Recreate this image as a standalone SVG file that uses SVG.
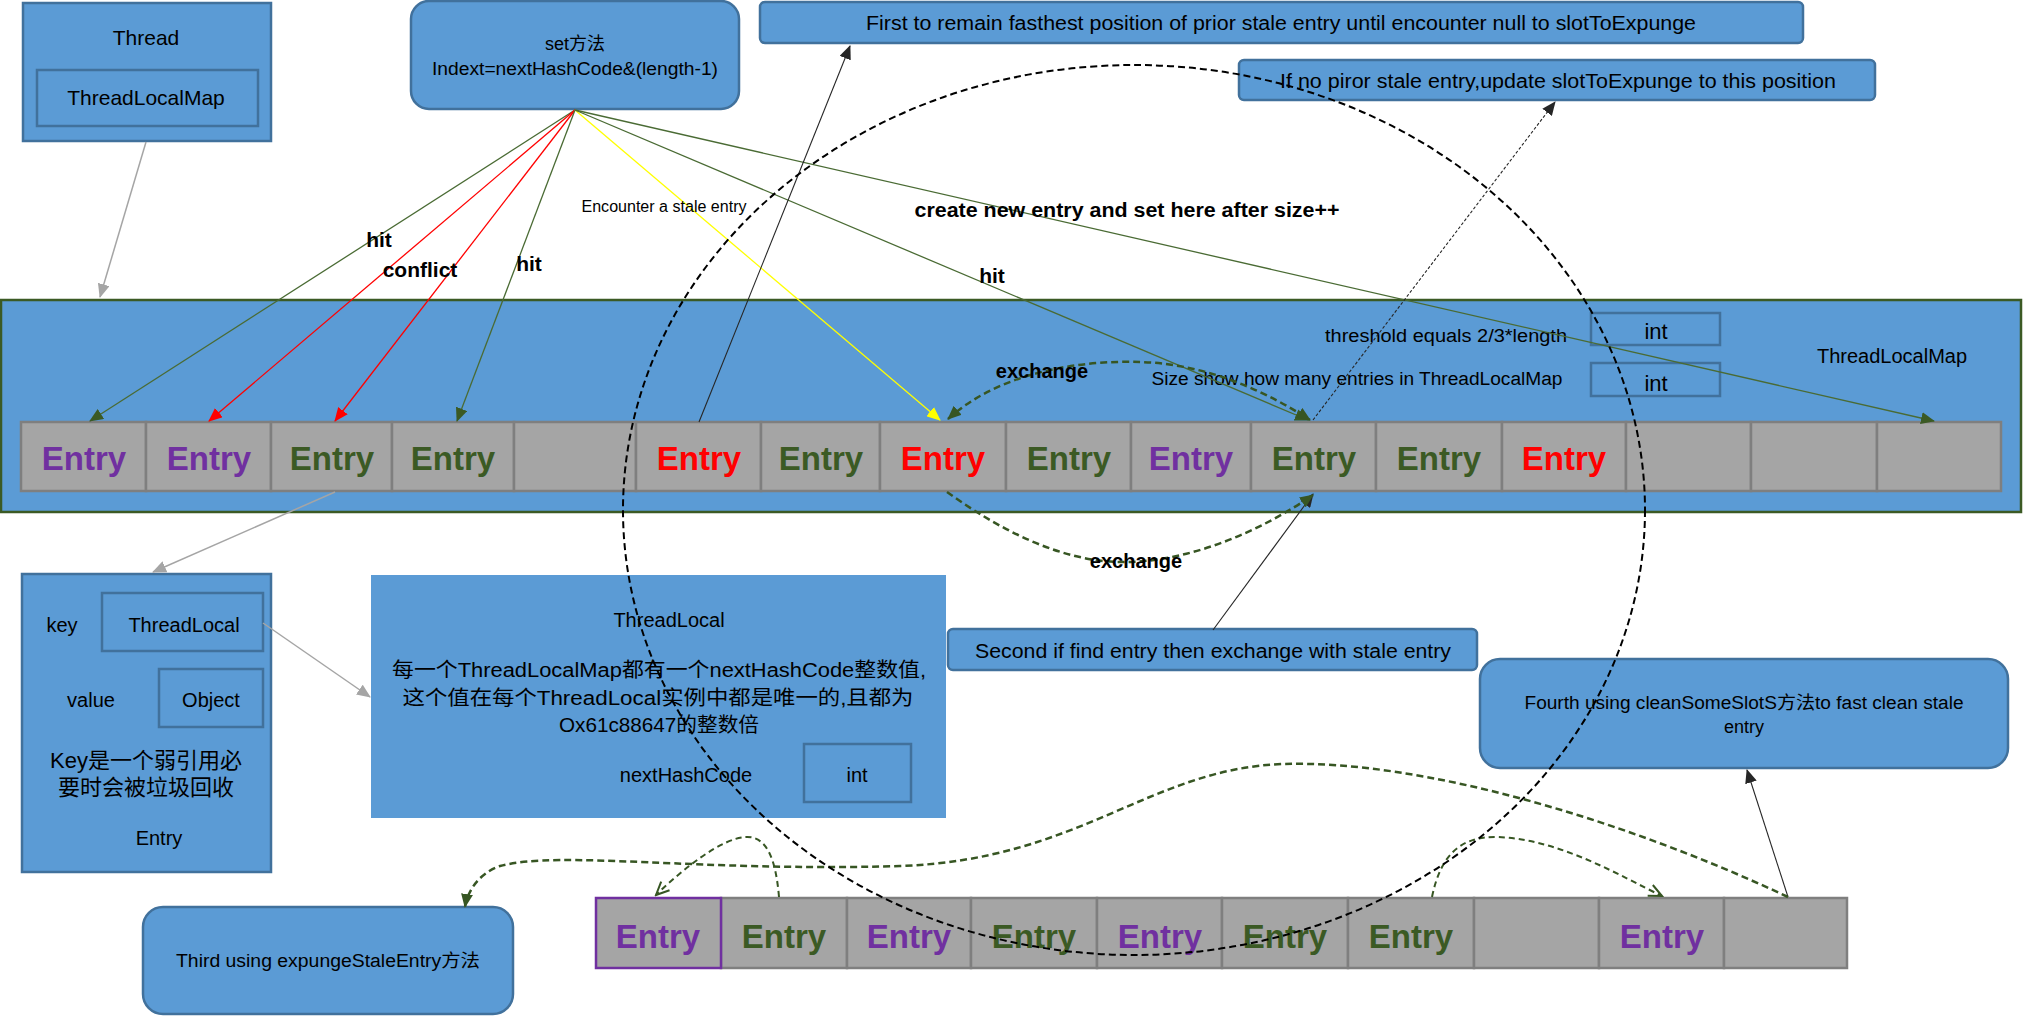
<svg xmlns="http://www.w3.org/2000/svg" width="2024" height="1016" viewBox="0 0 2024 1016">
<style>
text{font-family:"Liberation Sans","Noto Sans CJK SC",sans-serif;fill:#000}
.box{fill:#5B9BD5;stroke:#41719C;stroke-width:2.5}
.flat{fill:#5B9BD5;stroke:none}
.inner{fill:none;stroke:#41719C;stroke-width:2.5}
.map{fill:#5B9BD5;stroke:#3B5A24;stroke-width:2.5}
.cell{fill:#A5A5A5;stroke:#7F7F7F;stroke-width:2.5}
.e{font-size:33px;font-weight:bold;text-anchor:middle}
.p{fill:#7030A0}.g{fill:#3B5A24}.r{fill:#FF0000}
.t{font-size:20px;text-anchor:middle}
.s{font-size:18px;text-anchor:middle}
.b{font-weight:bold}
.lg{stroke:#4A6B34;stroke-width:1.3;fill:none}
.lr{stroke:#FF0000;stroke-width:1.3;fill:none}
.ly{stroke:#FFFF00;stroke-width:1.3;fill:none}
.lgr{stroke:#A5A5A5;stroke-width:1.5;fill:none}
.lk{stroke:#262626;stroke-width:1.1;fill:none}
.dg{stroke:#375623;stroke-width:2.5;fill:none;stroke-dasharray:7 4}
.dgt{stroke:#375623;stroke-width:2;fill:none;stroke-dasharray:6 4}
</style>
<defs>
<marker id="ag" markerUnits="userSpaceOnUse" markerWidth="14" markerHeight="12" refX="13" refY="6" orient="auto"><path d="M0,0 L14,6 L0,12 z" fill="#3B5A24"/></marker>
<marker id="ar" markerUnits="userSpaceOnUse" markerWidth="14" markerHeight="12" refX="13" refY="6" orient="auto"><path d="M0,0 L14,6 L0,12 z" fill="#FF0000"/></marker>
<marker id="ay" markerUnits="userSpaceOnUse" markerWidth="14" markerHeight="12" refX="13" refY="6" orient="auto"><path d="M0,0 L14,6 L0,12 z" fill="#FFFF00"/></marker>
<marker id="agr" markerUnits="userSpaceOnUse" markerWidth="14" markerHeight="12" refX="13" refY="6" orient="auto"><path d="M0,0 L14,6 L0,12 z" fill="#A5A5A5"/></marker>
<marker id="ak" markerUnits="userSpaceOnUse" markerWidth="14" markerHeight="12" refX="13" refY="6" orient="auto"><path d="M0,0 L14,6 L0,12 z" fill="#262626"/></marker>
<marker id="ad" markerUnits="userSpaceOnUse" markerWidth="14" markerHeight="12" refX="13" refY="6" orient="auto-start-reverse"><path d="M0,0 L14,6 L0,12 z" fill="#375623"/></marker>
<marker id="ao" markerUnits="userSpaceOnUse" markerWidth="16" markerHeight="14" refX="14" refY="7" orient="auto"><path d="M1,1 L14,7 L1,13" fill="none" stroke="#375623" stroke-width="2"/></marker>
</defs>

<g id="thread">
<rect class="box" x="23" y="3" width="248" height="138"/>
<text class="t" x="146" y="45" style="font-size:21px">Thread</text>
<rect class="inner" x="37" y="70" width="221" height="56"/>
<text class="t" x="146" y="105" style="font-size:21px">ThreadLocalMap</text>
</g>

<g id="set-method">
<rect class="box" x="411" y="1" width="328" height="108" rx="18"/>
<text class="s" x="575" y="50">set方法</text>
<text class="s" x="575" y="75" textLength="286" lengthAdjust="spacingAndGlyphs">Indext=nextHashCode&amp;(length-1)</text>
</g>

<g id="first-note">
<rect class="box" x="760" y="2" width="1043" height="41" rx="5"/>
<text class="t" x="1281" y="30" textLength="830" lengthAdjust="spacingAndGlyphs">First to remain fasthest position of prior stale entry until encounter null to slotToExpunge</text>
</g>

<g id="ifno-note">
<rect class="box" x="1239" y="60" width="636" height="40" rx="5"/>
<text class="t" x="1558" y="88" textLength="556" lengthAdjust="spacingAndGlyphs">If no piror stale entry,update slotToExpunge to this position</text>
</g>

<g id="threadlocalmap">
<rect class="map" x="1" y="300" width="2020" height="212"/>
<text class="s" x="1446" y="342" textLength="242" lengthAdjust="spacingAndGlyphs">threshold equals 2/3*length</text>
<rect class="inner" x="1591" y="313" width="129" height="32"/>
<text class="t" x="1656" y="339" style="font-size:22px">int</text>
<text class="s" x="1357" y="385" textLength="411" lengthAdjust="spacingAndGlyphs">Size show how many entries in ThreadLocalMap</text>
<rect class="inner" x="1591" y="363" width="129" height="33"/>
<text class="t" x="1656" y="391" style="font-size:22px">int</text>
<text class="t" x="1892" y="363">ThreadLocalMap</text>
</g>

<g id="entries-top">
<rect class="cell" x="21" y="422" width="125" height="69"/>
<rect class="cell" x="146" y="422" width="125" height="69"/>
<rect class="cell" x="271" y="422" width="121" height="69"/>
<rect class="cell" x="392" y="422" width="122" height="69"/>
<rect class="cell" x="514" y="422" width="122" height="69"/>
<rect class="cell" x="636" y="422" width="125" height="69"/>
<rect class="cell" x="761" y="422" width="119" height="69"/>
<rect class="cell" x="880" y="422" width="126" height="69"/>
<rect class="cell" x="1006" y="422" width="125" height="69"/>
<rect class="cell" x="1131" y="422" width="120" height="69"/>
<rect class="cell" x="1251" y="422" width="125" height="69"/>
<rect class="cell" x="1376" y="422" width="126" height="69"/>
<rect class="cell" x="1502" y="422" width="124" height="69"/>
<rect class="cell" x="1626" y="422" width="125" height="69"/>
<rect class="cell" x="1751" y="422" width="126" height="69"/>
<rect class="cell" x="1877" y="422" width="124" height="69"/>
<text class="e p" x="84" y="470">Entry</text>
<text class="e p" x="209" y="470">Entry</text>
<text class="e g" x="332" y="470">Entry</text>
<text class="e g" x="453" y="470">Entry</text>
<text class="e r" x="699" y="470">Entry</text>
<text class="e g" x="821" y="470">Entry</text>
<text class="e r" x="943" y="470">Entry</text>
<text class="e g" x="1069" y="470">Entry</text>
<text class="e p" x="1191" y="470">Entry</text>
<text class="e g" x="1314" y="470">Entry</text>
<text class="e g" x="1439" y="470">Entry</text>
<text class="e r" x="1564" y="470">Entry</text>
</g>

<g id="entry-detail">
<rect class="box" x="22" y="574" width="249" height="298"/>
<text class="t" x="62" y="632">key</text>
<rect class="inner" x="102" y="593" width="161" height="58"/>
<text class="t" x="184" y="632">ThreadLocal</text>
<text class="t" x="91" y="707">value</text>
<rect class="inner" x="159" y="669" width="104" height="58"/>
<text class="t" x="211" y="707">Object</text>
<text class="t" x="146" y="768" style="font-size:22px">Key是一个弱引用必</text>
<text class="t" x="146" y="795" style="font-size:22px">要时会被垃圾回收</text>
<text class="t" x="159" y="845">Entry</text>
</g>

<g id="threadlocal">
<rect class="flat" x="371" y="575" width="575" height="243"/>
<text class="t" x="669" y="627">ThreadLocal</text>
<text class="t" x="659" y="677" textLength="534" lengthAdjust="spacingAndGlyphs">每一个ThreadLocalMap都有一个nextHashCode整数值,</text>
<text class="t" x="658" y="705" textLength="511" lengthAdjust="spacingAndGlyphs">这个值在每个ThreadLocal实例中都是唯一的,且都为</text>
<text class="t" x="659" y="732" textLength="200" lengthAdjust="spacingAndGlyphs">Ox61c88647的整数倍</text>
<text class="t" x="686" y="782">nextHashCode</text>
<rect class="inner" x="804" y="744" width="107" height="58"/>
<text class="t" x="857" y="782">int</text>
</g>

<g id="second-note">
<rect class="box" x="948" y="629" width="529" height="41" rx="5"/>
<text class="t" x="1213" y="658" textLength="476" lengthAdjust="spacingAndGlyphs">Second if find entry then exchange with stale entry</text>
</g>

<g id="fourth-note">
<rect class="box" x="1480" y="659" width="528" height="109" rx="20"/>
<text class="s" x="1744" y="709" textLength="439" lengthAdjust="spacingAndGlyphs">Fourth using cleanSomeSlotS方法to fast clean stale</text>
<text class="s" x="1744" y="733">entry</text>
</g>

<g id="third-note">
<rect class="box" x="143" y="907" width="370" height="107" rx="20"/>
<text class="s" x="328" y="967" textLength="304" lengthAdjust="spacingAndGlyphs">Third using expungeStaleEntry方法</text>
</g>

<g id="entries-bottom">
<rect class="cell" x="721" y="898" width="126" height="70"/>
<rect class="cell" x="847" y="898" width="124" height="70"/>
<rect class="cell" x="971" y="898" width="126" height="70"/>
<rect class="cell" x="1097" y="898" width="125" height="70"/>
<rect class="cell" x="1222" y="898" width="126" height="70"/>
<rect class="cell" x="1348" y="898" width="126" height="70"/>
<rect class="cell" x="1474" y="898" width="125" height="70"/>
<rect class="cell" x="1599" y="898" width="125" height="70"/>
<rect class="cell" x="1724" y="898" width="123" height="70"/>
<rect x="596" y="898" width="125" height="70" fill="#A5A5A5" stroke="#7030A0" stroke-width="2.5"/>
<text class="e p" x="658" y="948">Entry</text>
<text class="e g" x="784" y="948">Entry</text>
<text class="e p" x="909" y="948">Entry</text>
<text class="e g" x="1034" y="948">Entry</text>
<text class="e p" x="1160" y="948">Entry</text>
<text class="e g" x="1285" y="948">Entry</text>
<text class="e g" x="1411" y="948">Entry</text>
<text class="e p" x="1662" y="948">Entry</text>
</g>

<g id="connectors">
<path class="lgr" d="M146,142 L100,297" marker-end="url(#agr)"/>
<path class="lgr" d="M335,492 L153,572" marker-end="url(#agr)"/>
<path class="lgr" d="M263,623 L370,697" marker-end="url(#agr)"/>

<path class="lg" d="M575,110 L90,421" marker-end="url(#ag)"/>
<path class="lr" d="M575,110 L209,421" marker-end="url(#ar)"/>
<path class="lr" d="M575,110 L335,421" marker-end="url(#ar)"/>
<path class="lg" d="M575,110 L457,421" marker-end="url(#ag)"/>
<path class="ly" d="M575,110 L940,420" marker-end="url(#ay)"/>
<path class="lg" d="M575,110 L1308,420" marker-end="url(#ag)"/>
<path class="lg" d="M575,110 L1934,421" marker-end="url(#ag)"/>

<path class="lk" d="M699,422 L850,46" marker-end="url(#ak)"/>
<path class="lk" d="M1313,420 L1555,102" stroke-dasharray="3 2" marker-end="url(#ak)"/>
<path class="lk" d="M1213,630 L1313,494" marker-end="url(#ak)"/>
<path class="lk" d="M1788,897 L1747,770" marker-end="url(#ak)"/>

<path class="dg" d="M948,419 C1000,372 1080,360 1140,362 C1210,364 1270,394 1310,420" marker-start="url(#ad)" marker-end="url(#ad)"/>
<path class="dg" d="M947,492 C1000,530 1060,561 1120,562 C1190,563 1262,530 1313,495" marker-end="url(#ad)"/>

<path class="dgt" d="M779,897 C776,862 768,836 746,837 C722,838 684,868 656,895" marker-end="url(#ao)"/>
<path class="dgt" d="M1432,897 C1440,858 1458,836 1497,837 C1560,839 1620,876 1662,896" marker-end="url(#ao)"/>
<path class="dg" d="M1788,897 C1620,818 1420,760 1284,764 C1150,768 1080,860 900,866 C700,872 560,850 500,866 C482,872 468,888 465,907" marker-end="url(#ad)"/>

<text class="t b" x="379" y="247" style="font-size:21px">hit</text>
<text class="t b" x="420" y="277" style="font-size:21px">conflict</text>
<text class="t b" x="529" y="271" style="font-size:21px">hit</text>
<text class="t" x="664" y="212" style="font-size:16px" textLength="165" lengthAdjust="spacingAndGlyphs">Encounter a stale entry</text>
<text class="t b" x="1127" y="217" textLength="425" lengthAdjust="spacingAndGlyphs">create new entry and set here after size++</text>
<text class="t b" x="992" y="283" style="font-size:21px">hit</text>
<text class="t b" x="1042" y="378">exchange</text>
<text class="t b" x="1136" y="568">exchange</text>
</g>

<g id="scope-ellipse">
<ellipse cx="1134" cy="510" rx="511" ry="445" fill="none" stroke="#000" stroke-width="2" stroke-dasharray="7 4"/>
</g>
</svg>
